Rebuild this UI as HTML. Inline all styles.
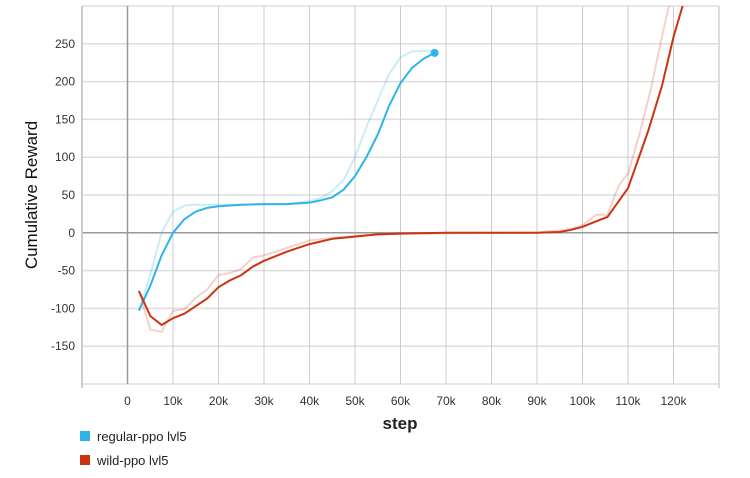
<!DOCTYPE html>
<html><head><meta charset="utf-8"><style>
body{margin:0;background:#fff;font-family:"Liberation Sans",Arial,sans-serif}
svg{display:block}
</style></head><body>
<svg id="chart" width="750" height="478">
<defs><clipPath id="clip"><rect x="82" y="6" width="637" height="378"/></clipPath></defs>
<g id="grid"></g>
<g id="series" clip-path="url(#clip)"></g>
<g id="axes"></g>
<text x="400" y="429" text-anchor="middle" font-size="17" font-weight="bold" fill="#222">step</text>
<text transform="translate(37,195) rotate(-90)" text-anchor="middle" font-size="17" fill="#111">Cumulative Reward</text>
<g>
<rect x="80" y="431" width="10" height="10" fill="#2eb5e8"/>
<text x="97" y="441" font-size="13" fill="#222">regular-ppo lvl5</text>
<rect x="80" y="455" width="10" height="10" fill="#cc3311"/>
<text x="97" y="465" font-size="13" fill="#222">wild-ppo lvl5</text>
</g>
</svg>
<script>
const xTicks=[0,10000,20000,30000,40000,50000,60000,70000,80000,90000,100000,110000,120000];
const xTickLabels=["0","10k","20k","30k","40k","50k","60k","70k","80k","90k","100k","110k","120k"];
const yTicks=[-150,-100,-50,0,50,100,150,200,250];
const blueX=[2500,5000,7500,10000,12500,15000,17500,20000,25000,30000,35000,40000,42500,45000,47500,50000,52500,55000,57500,60000,62500,65000,67500];
const blueY=[-103,-70,-30,0,18,28,33,35,37,38,38,40,43,47,57,75,100,130,168,198,218,230,238];
const blueRawX=[2500,5000,7500,10000,12500,15000,20000,25000,30000,35000,40000,42500,45000,47500,50000,52500,55000,57500,60000,62500,67500];
const blueRawY=[-103,-55,0,28,36,37,37,37,38,38,42,46,55,70,100,140,175,210,232,240,241];
const redX=[2500,5000,7500,10000,12500,15000,17500,20000,22500,25000,27500,30000,35000,40000,45000,50000,55000,60000,70000,90000,95000,97500,100000,102500,105500,110000,112000,114500,117500,120000,122000];
const redY=[-77,-110,-122,-113,-107,-97,-87,-72,-63,-56,-45,-37,-25,-15,-8,-5,-2,-1,0,0,1,4,8,14,21,59,93,136,195,259,300];
const redRawX=[2500,5000,7500,10000,12500,15000,17500,20000,22500,25000,27500,30000,35000,40000,50000,60000,90000,97500,100000,103000,105500,108000,110000,112500,115000,117500,119000];
const redRawY=[-77,-128,-131,-103,-101,-86,-75,-56,-53,-48,-33,-30,-20,-10,-4,-1,0,5,10,24,24,63,78,130,190,260,300];
const L=82,R=719,T=6,B=384,X0=-10000,X1=130000,Y0=-200,Y1=300;
const sx=v=>L+(v-X0)/(X1-X0)*(R-L);
const sy=v=>B-(v-Y0)/(Y1-Y0)*(B-T);
const NS="http://www.w3.org/2000/svg";
function mk(tag,attrs,parent){const e=document.createElementNS(NS,tag);for(const k in attrs)e.setAttribute(k,attrs[k]);parent.appendChild(e);return e;}
const grid=document.getElementById('grid'),axes=document.getElementById('axes'),series=document.getElementById('series');
for(let v=-200;v<=300;v+=50){const l=mk('line',{x1:L,x2:R,y1:sy(v),y2:sy(v),stroke:'#ddd','stroke-width':1.5},grid);

}
for(let v=-10000;v<=130000;v+=10000){const l=mk('line',{x1:sx(v),x2:sx(v),y1:T,y2:B,stroke:'#ccc','stroke-width':1},grid);

}
const z=mk('line',{x1:L,x2:R,y1:sy(0),y2:sy(0),stroke:'#999','stroke-width':1.5},grid);


const z2=mk('line',{x1:sx(0),x2:sx(0),y1:T,y2:B,stroke:'#999','stroke-width':1.5},grid);


const la=mk('line',{x1:L,x2:L,y1:T,y2:B+4,stroke:'#ccc','stroke-width':2},axes);


const ra=mk('line',{x1:R,x2:R,y1:T,y2:B+4,stroke:'#ddd','stroke-width':2},axes);


yTicks.forEach(v=>{const t=mk('text',{x:L-7,y:sy(v)+4,'text-anchor':'end','font-size':12,fill:'#333'},axes);t.textContent=v;

});
xTicks.forEach((v,i)=>{const t=mk('text',{x:sx(v),y:B+21,'text-anchor':'middle','font-size':12,fill:'#333'},axes);t.textContent=xTickLabels[i];

});
function line(xs,ys,color,w,op,name){const d=xs.map((x,i)=>(i?'L':'M')+sx(x).toFixed(1)+','+sy(ys[i]).toFixed(1)).join('');
const p=mk('path',{d:d,fill:'none',stroke:color,'stroke-width':w,'stroke-opacity':op,'stroke-linejoin':'round'},series);

}
line(blueRawX,blueRawY,'#2eb5e8',2,0.25,'regular-raw-line');
line(redRawX,redRawY,'#cc3311',2,0.22,'wild-raw-line');
line(blueX,blueY,'#2eb5e8',2,1,'regular-smoothed-line');
line(redX,redY,'#cc3311',2,1,'wild-smoothed-line');
const n=blueX.length-1;
const dot=mk('circle',{cx:sx(blueX[n]),cy:sy(blueY[n]),r:4,fill:'#2eb5e8'},series);


</script>
</body></html>
